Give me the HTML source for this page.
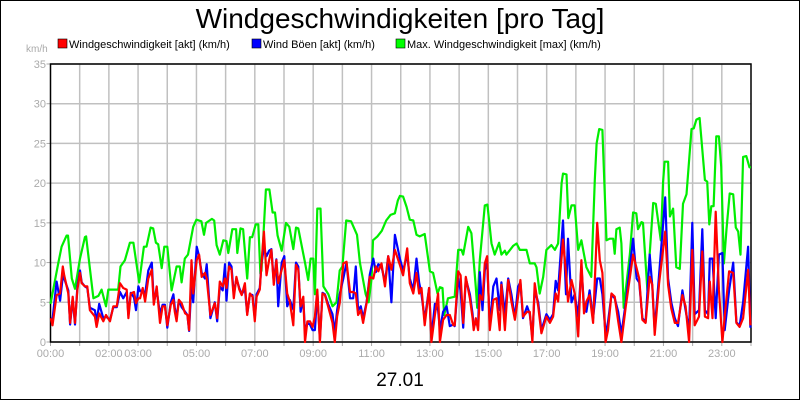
<!DOCTYPE html>
<html><head><meta charset="utf-8"><style>
html,body{margin:0;padding:0;background:#fff}
svg{display:block}
text{font-family:"Liberation Sans",Arial,sans-serif}
</style></head><body>
<svg id="chart" width="800" height="400" viewBox="0 0 800 400" xmlns="http://www.w3.org/2000/svg">
<rect x="0.5" y="0.5" width="799" height="399" fill="#fff" stroke="#000"/>
<text x="400" y="28" font-size="28" text-anchor="middle" fill="#000">Windgeschwindigkeiten [pro Tag]</text>
<g font-size="11">
<g><rect x="58" y="39" width="9" height="9" fill="#f00" stroke="#000" stroke-width="0.6"/><text x="69" y="48">Windgeschwindigkeit [akt] (km/h)</text></g>
<g><rect x="252" y="39" width="9" height="9" fill="#00f" stroke="#000" stroke-width="0.6"/><text x="263" y="48">Wind Böen [akt] (km/h)</text></g>
<g><rect x="396" y="39" width="9" height="9" fill="#0f0" stroke="#000" stroke-width="0.6"/><text x="407" y="48">Max. Windgeschwindigkeit [max] (km/h)</text></g>
</g>
<text x="26" y="52" font-size="10" fill="#aaa">km/h</text>
<text x="400" y="386" font-size="19" text-anchor="middle" fill="#000">27.01</text>
<g id="grid"></g>
<g id="axes"></g>
<g id="series"></g>
</svg>
<script>
const yTicks=[0,5,10,15,20,25,30,35];
const xTickHours=[0,2,3,5,7,9,11,13,15,17,19,21,23];
const xTickLabels=["00:00","02:00","03:00","05:00","07:00","09:00","11:00","13:00","15:00","17:00","19:00","21:00","23:00"];
const aktT=[0.01,0.07,0.21,0.33,0.42,0.47,0.61,0.67,0.76,0.84,0.92,1.01,1.07,1.18,1.26,1.35,1.52,1.58,1.67,1.81,1.90,2.04,2.15,2.27,2.38,2.49,2.61,2.67,2.75,2.86,2.93,3.01,3.07,3.16,3.24,3.35,3.47,3.54,3.64,3.75,3.84,3.92,4.00,4.12,4.21,4.26,4.32,4.40,4.49,4.61,4.69,4.75,4.83,4.89,5.01,5.09,5.18,5.29,5.35,5.48,5.63,5.71,5.80,5.90,5.98,6.03,6.12,6.20,6.28,6.37,6.47,6.55,6.66,6.74,6.83,6.92,7.00,7.06,7.17,7.23,7.31,7.40,7.49,7.57,7.65,7.74,7.80,7.92,8.01,8.11,8.20,8.32,8.41,8.49,8.57,8.66,8.72,8.80,8.89,8.98,9.06,9.14,9.23,9.32,9.40,9.51,9.66,9.74,9.82,9.91,10.03,10.14,10.26,10.37,10.46,10.54,10.63,10.71,10.83,10.94,11.06,11.15,11.23,11.34,11.46,11.57,11.68,11.80,11.97,12.08,12.22,12.31,12.43,12.54,12.63,12.71,12.82,12.97,13.05,13.17,13.28,13.34,13.45,13.57,13.68,13.80,13.85,13.97,14.05,14.14,14.23,14.37,14.46,14.50,14.57,14.65,14.71,14.80,14.88,14.96,15.05,15.17,15.28,15.39,15.45,15.57,15.68,15.79,15.91,16.02,16.10,16.19,16.33,16.42,16.51,16.59,16.71,16.82,16.99,17.11,17.22,17.31,17.39,17.56,17.66,17.73,17.85,17.96,18.08,18.19,18.28,18.36,18.47,18.59,18.73,18.82,18.91,19.02,19.10,19.22,19.33,19.45,19.56,19.71,19.96,20.08,20.17,20.28,20.39,20.53,20.62,20.70,20.85,21.06,21.16,21.27,21.39,21.50,21.65,21.76,21.88,21.99,22.07,22.22,22.33,22.42,22.53,22.59,22.68,22.79,22.90,23.02,23.10,23.25,23.39,23.50,23.61,23.73,23.90,23.98];
const speedV=[3.0,2.1,5.9,6.1,9.5,8.4,6.1,2.4,5.7,2.4,6.6,8.7,7.4,7.0,7.0,4.0,3.2,1.9,3.6,2.6,3.4,2.6,4.5,4.5,7.4,6.8,6.6,3.0,6.1,6.3,4.9,5.5,5.5,6.8,5.1,8.0,9.1,4.7,7.0,2.4,4.5,4.5,2.1,4.7,5.3,3.8,2.6,5.3,4.9,3.6,3.4,1.5,10.3,6.1,10.3,11.0,8.2,8.7,8.0,3.4,4.9,3.0,7.6,7.0,8.0,6.8,9.5,9.1,5.5,8.2,6.6,5.9,7.4,3.4,6.1,5.7,2.6,5.7,6.6,9.9,13.9,8.4,10.3,11.6,7.2,10.3,7.4,9.1,10.3,6.1,5.1,2.1,9.7,9.1,4.5,5.7,0,2.6,2.6,1.9,3.2,6.6,0,6.1,5.9,4.5,2.4,0,3.2,4.9,9.9,10.1,6.3,6.3,6.1,3.4,4.0,2.4,4.9,8.2,8.0,9.5,8.9,9.9,7.0,10.8,9.1,11.6,9.7,8.4,11.8,7.4,6.1,8.7,6.1,6.8,2.1,6.8,0,3.4,6.1,0,2.8,3.4,3.4,2.1,2.1,8.9,8.4,2.4,8.2,5.5,3.0,1.5,3.0,1.5,5.9,5.3,9.9,10.8,1.5,5.3,5.5,1.5,7.2,1.5,7.8,5.1,2.8,5.7,7.8,3.2,3.8,3.8,0,7.4,4.5,1.1,3.2,2.4,3.2,6.1,5.1,12.9,8.7,5.1,7.8,6.1,0.7,10.3,3.6,5.1,5.9,2.4,15.0,10.3,8.7,0,1.5,6.1,5.7,2.6,0,4.5,11.0,9.3,8.0,2.8,2.4,8.2,7.2,0.9,7.4,13.9,7.2,4.2,2.4,2.4,5.9,4.5,0,11.6,2.1,3.2,11.4,3.2,3.0,7.6,3.0,16.4,6.6,0,3.2,8.9,8.7,2.4,1.9,3.0,9.1,2.1];
const gustV=[3.0,2.8,7.6,5.2,8.3,8.0,6.5,2.2,5.5,2.2,7.0,9.0,7.5,7.0,6.8,4.3,4.0,2.5,4.8,3.0,3.2,2.8,4.4,4.4,6.3,5.5,6.3,3.4,6.2,5.6,4.0,7.0,6.4,6.5,6.0,9.0,10.0,5.0,6.5,3.5,4.7,4.7,1.8,5.0,6.0,4.3,3.0,5.3,4.4,3.8,3.4,1.4,7.6,5.0,12.0,10.8,8.7,8.0,9.8,3.0,5.0,2.6,7.0,6.5,9.8,5.2,10.0,9.5,6.0,8.0,6.8,6.0,6.7,3.5,6.0,5.9,3.0,6.0,6.8,10.0,11.8,10.8,11.5,11.7,7.5,10.4,4.5,10.0,10.8,4.5,5.3,4.1,10.0,9.5,3.8,5.5,1.2,2.4,2.2,1.5,1.5,6.3,0.3,6.2,6.0,4.8,3.5,1.2,4.0,6.0,8.0,10.0,5.5,5.5,9.5,4.0,4.5,3.0,5.0,8.5,10.5,8.8,9.8,9.5,7.5,10.8,5.0,13.5,10.5,9.0,11.0,8.0,6.5,10.5,7.5,6.0,2.8,6.8,0.5,4.8,4.0,1.5,3.8,4.5,2.0,2.2,2.0,8.0,6.5,1.8,8.0,6.0,3.5,1.8,2.5,2.0,8.8,4.0,9.0,10.3,2.0,7.0,8.0,4.0,7.5,3.5,8.0,6.0,3.0,7.0,7.5,3.0,4.5,3.5,0.5,6.5,5.0,1.5,3.5,2.8,3.5,7.7,6.5,15.3,6.0,13.0,5.0,6.0,3.2,9.5,4.5,3.8,6.5,3.0,8.0,8.0,6.0,1.0,2.5,6.0,5.5,3.8,1.0,5.0,13.0,8.0,7.5,3.0,2.5,11.0,7.0,1.5,8.5,18.2,8.0,5.0,3.0,2.0,6.5,4.0,1.5,15.0,3.5,4.0,14.2,4.0,3.5,10.5,10.5,3.0,11.0,11.2,1.5,6.5,10.0,2.5,2.0,5.0,12.0,1.8];
const maxT=[0,0.27,0.38,0.55,0.6,0.73,0.84,1.01,1.18,1.22,1.47,1.64,1.75,1.9,1.98,2.32,2.4,2.55,2.72,2.84,3.04,3.2,3.29,3.43,3.52,3.61,3.69,3.81,3.9,4.0,4.15,4.32,4.43,4.49,4.6,4.71,4.89,5.0,5.17,5.26,5.33,5.53,5.61,5.69,5.8,5.92,6.03,6.09,6.23,6.36,6.4,6.51,6.6,6.74,6.83,6.91,7.03,7.12,7.19,7.23,7.38,7.5,7.61,7.69,7.78,7.92,8.07,8.18,8.32,8.41,8.49,8.72,8.83,8.91,9.0,9.06,9.14,9.25,9.35,9.52,9.66,9.8,9.91,10.0,10.13,10.3,10.5,10.6,10.8,10.9,11.0,11.05,11.2,11.35,11.5,11.65,11.8,11.9,11.97,12.08,12.2,12.31,12.43,12.54,12.65,12.82,13.0,13.11,13.26,13.34,13.43,13.49,13.62,13.85,13.97,14.08,14.14,14.31,14.42,14.57,14.62,14.71,14.88,14.97,15.11,15.22,15.37,15.45,15.57,15.62,15.85,15.97,16.08,16.31,16.42,16.59,16.65,16.76,16.88,16.99,17.16,17.28,17.39,17.51,17.56,17.68,17.74,17.85,17.96,18.08,18.19,18.36,18.53,18.65,18.71,18.8,18.91,19.05,19.16,19.28,19.33,19.39,19.5,19.56,19.64,19.85,19.96,20.07,20.13,20.25,20.3,20.45,20.53,20.65,20.74,20.91,20.99,21.04,21.16,21.22,21.33,21.44,21.56,21.67,21.79,21.96,22.04,22.13,22.24,22.42,22.5,22.57,22.64,22.72,22.81,22.9,22.98,23.07,23.16,23.27,23.39,23.48,23.56,23.64,23.73,23.84,23.95,24.0];
const maxV=[4.8,10,12,13.4,13.4,8,6.7,10.5,13.2,13.3,5.5,5.8,6.6,4.5,6.6,6.6,9.5,10.3,12.5,12.5,7.5,12,12,14.4,14.3,12.5,12.3,9.3,12,12,6.5,9.5,9.5,7.5,10.5,11,14.5,15.4,15.2,13.5,15,15.5,15.3,12.2,11,12.8,12.7,11.2,14.2,14.2,11.2,14.3,14.2,8,13.2,13.2,14.8,14.8,8.6,9,19.2,19.2,16.3,16.3,13.4,11.5,15,14.5,11.7,14.4,14.3,10,7.8,10.5,10.5,6,16.8,16.8,7,6,4.5,5,9,9.5,15.3,15.2,13.5,10,6,5,8,12.8,13.3,14,15.3,16,16.2,17.8,18.4,18.3,17,15.4,15.3,13.5,13.3,13.6,8.9,8.7,6.1,6.9,6.8,3.4,5.5,5.7,11.6,11.6,11,14.5,13.7,6.9,4.3,10.3,17.2,17.3,12.4,11,12.5,11,11.5,11,12.1,12.4,11.6,11.6,9.9,9.9,9.4,6.1,8.2,11.6,12.2,11.6,12.4,20,21.2,21.1,15.6,17.2,17.2,11.6,12.8,9.4,8.2,20.4,25,26.8,26.7,12.8,13,13,11.1,14.2,14.4,12.4,4.3,11.1,16.3,16.2,14.2,15.1,15,6.5,11.1,17.5,17.4,12.8,20.2,22.7,22.7,15.8,16.8,9.4,9.2,17.4,18.6,26.8,26.9,28,28.2,20.4,20.2,14.8,17.1,17.1,25.9,25.9,22.1,9.9,14.2,18.7,18.6,14.4,13.9,11,23.3,23.4,22,22];

const NS="http://www.w3.org/2000/svg";
const X0=50.5,X1=751,Y0=342,Y1=64;
const xs=h=>X0+(h/24)*(X1-X0);
const ys=v=>Y0-(v/35)*(Y0-Y1);
function mk(tag,attrs,parent){const e=document.createElementNS(NS,tag);for(const k in attrs)e.setAttribute(k,attrs[k]);parent.appendChild(e);return e;}
const grid=document.getElementById('grid'),axes=document.getElementById('axes'),series=document.getElementById('series');
yTicks.forEach(v=>{
  const l=mk('line',{x1:X0,x2:X1,y1:ys(v),y2:ys(v),stroke:'#c0c0c0','stroke-width':1.5},grid);
  
  
  const t=mk('text',{x:46,y:ys(v)+4,'font-size':11,'text-anchor':'end',fill:'#aaa'},axes);
  t.textContent=v;
  
  
  const tk=mk('line',{x1:X0-4,x2:X0,y1:ys(v),y2:ys(v),stroke:'#aaa'},axes);
  
  
});
for(let h=1;h<24;h++){
  const l=mk('line',{x1:xs(h),x2:xs(h),y1:Y1,y2:Y0,stroke:'#c0c0c0','stroke-width':1.5},grid);
  
  
}
for(let h=0;h<=24;h++){
  const tk=mk('line',{x1:xs(h),x2:xs(h),y1:Y0,y2:Y0+4,stroke:'#aaa'},axes);
  
  
}
xTickHours.forEach((h,i)=>{
  const t=mk('text',{x:xs(h),y:357,'font-size':11,'text-anchor':'middle',fill:'#aaa'},axes);
  t.textContent=xTickLabels[i];
  
  
});
const frame=mk('rect',{x:X0,y:Y1,width:X1-X0,height:Y0-Y1,fill:'none',stroke:'#000','stroke-width':1.5},axes);


function line(T,V,color,name){
  const d=T.map((t,i)=>(i?'L':'M')+xs(t).toFixed(1)+','+ys(V[i]).toFixed(1)).join('');
  const p=mk('path',{d:d,fill:'none',stroke:color,'stroke-width':2.2,'stroke-linejoin':'round'},series);
  
  
}
line(maxT,maxV,'#00ee00','max-speed-line');
line(aktT,gustV,'#0000ff','gust-line');
line(aktT,speedV,'#ff0000','speed-line');
</script>
</body></html>
